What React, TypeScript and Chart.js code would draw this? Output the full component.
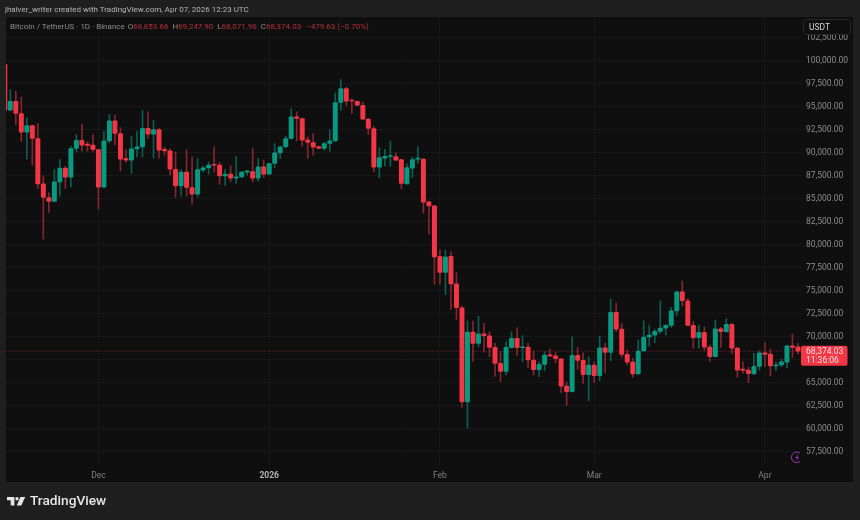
import { Chart, registerables } from "chart.js"
import { useEffect, useRef } from "react"

Chart.register(...registerables)

const FONT = "Roboto, sans-serif"

// daily candles, Nov 14 2025 -> Apr 7 2026
const OPENS = [
	99570, 94570, 95550, 94210, 92180, 92910, 91500, 86570, 85090, 84650, 86780, 88270, 87290, 90410, 91310,
	90880, 90770, 90300, 86210, 91240, 93410, 92040, 89320, 89140, 90370, 90580, 92610, 91960, 92470, 90330,
	90150, 88160, 86350, 87840, 86170, 85450, 88050, 88300, 88700, 88600, 87430, 87620, 87180, 87330, 87840,
	87910, 87180, 88410, 87620, 88780, 89930, 90580, 91500, 93840, 93670, 91340, 91060, 90620, 90410, 90950,
	91240, 95410, 96930, 95650, 95550, 95110, 93620, 92580, 88380, 89360, 89540, 89540, 89220, 86570, 88270,
	89250, 89250, 84610, 84180, 78680, 76940, 78680, 75700, 73100, 62860, 70460, 69230, 70270, 70060, 68800,
	67060, 66190, 68760, 69770, 68760, 68830, 67420, 66360, 66950, 67990, 67880, 67560, 64590, 63980, 67930,
	67390, 65820, 66870, 65710, 68760, 68250, 72600, 70780, 68040, 67200, 65900, 68400, 69920, 70130, 70530,
	70890, 71190, 72770, 74840, 73860, 71190, 69840, 70430, 68830, 67780, 70820, 70490, 71300, 68720, 66440,
	66330, 65900, 66730, 68210, 68070, 66770, 66900, 67200, 68970, 68853.66,
]
const HIGHS = [
	99640, 96820, 96600, 96010, 93780, 92950, 93120, 87430, 85590, 88130, 89220, 88490, 90660, 91930, 93050,
	91130, 91960, 90330, 92290, 94100, 94030, 92650, 90300, 91750, 92290, 94570, 94390, 93480, 92610, 90580,
	90410, 90040, 88130, 90300, 89500, 89320, 88490, 88950, 90580, 88890, 88130, 88560, 89570, 87910, 88050,
	90410, 89320, 89140, 88800, 90950, 90660, 91750, 94750, 94390, 93700, 91670, 92040, 90690, 91090, 92470,
	96450, 97900, 97100, 95840, 95580, 95470, 93650, 92830, 90520, 90330, 91200, 89930, 89250, 88780, 89500,
	90580, 89320, 84680, 84210, 79360, 79360, 79180, 76900, 73280, 71690, 71650, 72200, 71400, 70490, 69230,
	68360, 69410, 70490, 70920, 70060, 69230, 68400, 67230, 68320, 68610, 68250, 67590, 65060, 69950, 68800,
	68210, 67780, 67230, 70020, 69230, 74010, 73580, 71400, 68500, 67600, 69590, 71690, 71220, 70750, 73860,
	71290, 73140, 74870, 76000, 74080, 71580, 71220, 71030, 69050, 71760, 70970, 71950, 71400, 68800, 67230,
	66620, 68150, 68430, 69300, 68610, 67230, 67490, 69050, 70240, 69247.9,
]
const LOWS = [
	94570, 94500, 93020, 91200, 89250, 88600, 86070, 80560, 83460, 84620, 85230, 86070, 86240, 90040, 90120,
	90120, 90040, 83820, 86190, 91020, 90840, 87980, 88890, 87690, 89500, 89500, 91500, 89360, 89360, 89680,
	87510, 85090, 85230, 85230, 84360, 85150, 87870, 87620, 87870, 86530, 86390, 86780, 86610, 87260, 87510,
	86780, 86860, 87260, 87580, 88350, 89320, 90550, 91420, 91240, 90660, 89320, 89680, 90370, 90230, 90120,
	91200, 94570, 95110, 94210, 95080, 93570, 91930, 87870, 87220, 88490, 88490, 89110, 86020, 86540, 87260,
	88780, 83350, 81100, 75670, 75640, 74550, 72920, 71840, 62280, 60000, 67280, 68860, 68290, 67780, 65680,
	65060, 65790, 68730, 67960, 67230, 66580, 65790, 65600, 66260, 67780, 67130, 63870, 62460, 63950, 66410,
	64890, 63000, 64950, 65170, 66040, 67340, 70490, 67710, 66870, 65540, 65870, 68370, 68940, 69300, 70320,
	70130, 70970, 72230, 73280, 71160, 68690, 68690, 68470, 67280, 67750, 68800, 70420, 68150, 65540, 65970,
	64950, 65870, 66330, 66690, 65680, 66260, 66690, 66580, 67710, 68071.96,
]
const CLOSES = [
	94570, 95550, 94210, 92180, 92910, 91500, 86570, 85090, 84650, 86780, 88270, 87290, 90410, 91310, 90770,
	90740, 90300, 86210, 91240, 93410, 92040, 89250, 89140, 90370, 90580, 92610, 91960, 92470, 90230, 90150,
	88160, 86350, 87840, 86170, 85450, 88130, 88300, 88600, 88600, 87430, 87620, 87180, 87330, 87840, 87980,
	87180, 88410, 87620, 88780, 89930, 90580, 91500, 93840, 93670, 91310, 91060, 90550, 90410, 90950, 91240,
	95410, 96930, 95550, 95580, 95110, 93590, 92580, 88380, 89430, 89570, 89650, 89140, 86610, 88350, 89220,
	89360, 84580, 84180, 78640, 76940, 78640, 75700, 73100, 62860, 70460, 69230, 70270, 70060, 68800, 67060,
	66190, 68800, 69770, 68760, 68860, 67420, 66360, 66950, 67960, 67880, 67560, 64590, 63980, 67930, 67390,
	65820, 66870, 65710, 68760, 68250, 72600, 70780, 68040, 67200, 65900, 68400, 69920, 70130, 70530, 70890,
	71190, 72770, 74840, 73860, 71190, 69840, 70430, 68830, 67780, 70820, 70490, 71300, 68720, 66330, 66300,
	65930, 66730, 68210, 68040, 66770, 66900, 67230, 68970, 68800, 68374.03,
]

const Y_TICKS = [
	57500, 60000, 62500, 65000, 67500, 70000, 72500, 75000, 77500, 80000, 82500, 85000, 87500, 90000, 92500, 95000,
	97500, 100000, 102500,
]
const MONTH_TICKS = [17, 48, 79, 107, 138]
const MONTH_LABELS = ["Dec", "2026", "Feb", "Mar", "Apr"]

const LAST_PRICE = 68374.03
const COUNTDOWN = "11:36:06"
const UP = "#089981"
const DOWN = "#f23645"
const UP_WICK = "#0a5f52"
const DOWN_WICK = "#86252f"
const X_MIN = 0.22
const X_MAX = 144.55

const money = (v: number) =>
	v.toLocaleString("en-US", { minimumFractionDigits: 2, maximumFractionDigits: 2 })

const framePlugin = {
	id: "frame",
	beforeDraw(chart: Chart) {
		const { ctx } = chart
		ctx.save()
		ctx.fillStyle = "#1f1f1f"
		ctx.fillRect(0, 0, 860, 520)
		ctx.fillStyle = "#0f0f0f"
		ctx.fillRect(6, 17, 847, 465)
		ctx.restore()
	},
}

const priceTagPlugin = {
	id: "priceTag",
	afterDraw(chart: Chart) {
		const { ctx } = chart
		const y = chart.scales.y.getPixelForValue(LAST_PRICE)
		ctx.save()
		ctx.fillStyle = DOWN
		ctx.beginPath()
		ctx.roundRect(801, y - 5.5, 46.5, 20, 2)
		ctx.fill()
		ctx.fillStyle = "#f7dfe1"
		ctx.font = `8.5px ${FONT}`
		ctx.textBaseline = "middle"
		ctx.textAlign = "left"
		ctx.fillText(money(LAST_PRICE), 806, y + 1)
		ctx.fillText(COUNTDOWN, 806, y + 9.5)
		ctx.restore()
	},
}

export default function App() {
	const canvasRef = useRef<HTMLCanvasElement>(null)

	useEffect(() => {
		if (!canvasRef.current) return
		const xs = OPENS.map((_, i) => i)
		const isUp = (i: number) => CLOSES[i] >= OPENS[i]

		const chart = new Chart(canvasRef.current, {
			type: "bar",
			data: {
				datasets: [
					{
						data: xs.map((i) => ({ x: i, y: [OPENS[i], CLOSES[i]] })),
						backgroundColor: xs.map((i) => (isUp(i) ? UP : DOWN)),
						barThickness: 4.3,
						borderRadius: 1,
						borderSkipped: false,
						grouped: false,
						order: 0,
					},
					{
						data: xs.map((i) => ({ x: i, y: [LOWS[i], HIGHS[i]] })),
						backgroundColor: xs.map((i) => (isUp(i) ? UP_WICK : DOWN_WICK)),
						barThickness: 1,
						grouped: false,
						order: 1,
					},
					{
						type: "line",
						data: [
							{ x: X_MIN, y: LAST_PRICE },
							{ x: X_MAX, y: LAST_PRICE },
						],
						borderColor: "rgba(242,54,69,0.35)",
						borderWidth: 1,
						borderDash: [1, 1],
						pointRadius: 0,
						order: 2,
					},
				],
			} as any,
			options: {
				responsive: false,
				animation: false,
				layout: { padding: { left: 6, top: 17, right: 7, bottom: 38 } },
				plugins: { legend: { display: false }, tooltip: { enabled: false } },
				scales: {
					x: {
						type: "linear",
						min: X_MIN,
						max: X_MAX,
						offset: false,
						grid: { color: "#171717", drawTicks: false, offset: false },
						border: { display: false },
						afterBuildTicks: (axis) => {
							axis.ticks = MONTH_TICKS.map((value) => ({ value }))
						},
						afterFit: (axis) => {
							axis.height = 17
						},
						ticks: {
							autoSkip: false,
							maxRotation: 0,
							padding: 6,
							color: (ctx) => (ctx.tick?.value === 48 ? "#b4b4b4" : "#808080"),
							font: (ctx) => ({
								family: FONT,
								size: 8.5,
								weight: ctx.tick?.value === 48 ? "bold" : "normal",
							}),
							callback: (v) => MONTH_LABELS[MONTH_TICKS.indexOf(Number(v))] ?? "",
						},
					},
					y: {
						position: "right",
						min: 56012,
						max: 104703,
						grid: { color: "#181818", drawTicks: false },
						border: { display: false },
						afterBuildTicks: (axis) => {
							axis.ticks = Y_TICKS.map((value) => ({ value }))
						},
						afterFit: (axis) => {
							axis.width = 52
						},
						ticks: {
							padding: 5,
							labelOffset: 1,
							color: "#8c8c8c",
							font: { family: FONT, size: 8.5 },
							callback: (v) => money(Number(v)),
						},
					},
				},
			},
			plugins: [framePlugin, priceTagPlugin],
		})

		return () => {
			chart.destroy()
		}
	}, [])

	const red = { color: "#b52f3b" }

	return (
		<div style={{ position: "relative", width: 860, height: 520, overflow: "hidden", fontFamily: FONT }}>
			<style>{"body{margin:0;background:#1f1f1f}"}</style>
			<canvas ref={canvasRef} width={860} height={520} style={{ display: "block" }} />

			<div style={{ ...textRow, left: 5, top: 3, fontSize: 8, color: "#b5b5b5" }}>
				jhalver_writer created with TradingView.com, Apr 07, 2026 12:23 UTC
			</div>

			<div style={{ ...textRow, left: 10, top: 20, fontSize: 8, color: "#8f8f8f" }}>
				Bitcoin / TetherUS · 1D · Binance
				<span style={{ marginLeft: 3 }}>O</span>
				<span style={red}>68,853.66</span>
				<span style={{ marginLeft: 4 }}>H</span>
				<span style={red}>69,247.90</span>
				<span style={{ marginLeft: 4 }}>L</span>
				<span style={red}>68,071.96</span>
				<span style={{ marginLeft: 4 }}>C</span>
				<span style={red}>68,374.03</span>
				<span style={{ ...red, marginLeft: 5 }}>−479.63 (−0.70%)</span>
			</div>

			<div
				style={{
					position: "absolute",
					left: 803,
					top: 19,
					width: 48,
					height: 16,
					boxSizing: "border-box",
					border: "1px solid #262626",
					borderRadius: 3,
					background: "#0f0f0f",
					color: "#d4d4d4",
					fontSize: 8.5,
					lineHeight: "14px",
					paddingLeft: 5,
				}}
			>
				USDT
			</div>

			<svg style={{ position: "absolute", left: 790, top: 451 }} width={10} height={13} viewBox="0 0 10 13">
				<circle cx={6.7} cy={6.3} r={5.3} fill="none" stroke="#9a35b8" strokeWidth={1} />
				<path d="M8.4 2.8 L5.4 7 L7 7 L6 10 L9 5.8 L7.4 5.8 Z" fill="#9a35b8" />
			</svg>

			<svg style={{ position: "absolute", left: 6.5, top: 497 }} width={18.5} height={8.5} viewBox="0 0 20 9">
				<path d="M0 0 H8 V9 H4 V3.5 H0 Z" fill="#e6e6e6" />
				<circle cx={10.8} cy={1.8} r={1.8} fill="#e6e6e6" />
				<path d="M14.5 0 H19.5 L15.5 9 H10.5 Z" fill="#e6e6e6" />
			</svg>
			<div
				style={{
					...textRow,
					left: 30,
					top: 494,
					fontSize: 13.7,
					fontWeight: 500,
					color: "#e6e6e6",
				}}
			>
				TradingView
			</div>
		</div>
	)
}

const textRow: React.CSSProperties = {
	position: "absolute",
	whiteSpace: "nowrap",
	lineHeight: "13px",
}
